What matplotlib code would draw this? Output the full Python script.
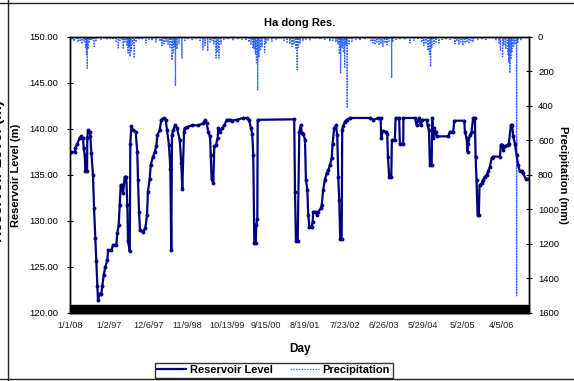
import matplotlib
matplotlib.use("Agg")
import matplotlib.pyplot as plt
from matplotlib.patches import Rectangle
from matplotlib.lines import Line2D
import numpy as np

plt.rcParams['font.family'] = ['Liberation Sans', 'DejaVu Sans']

# ---------------- data ----------------
title = "Ha dong Res."
x_tick_days = [0, 338, 676, 1014, 1352, 1690, 2028, 2366, 2704, 3042, 3380, 3718]
x_tick_labels = ['1/1/08', '1/2/97', '12/6/97', '11/9/98', '10/13/99', '9/15/00',
                 '8/19/01', '7/23/02', '6/26/03', '5/29/04', '5/2/05', '4/5/06']
n_days = 3959

level_day = [6, 41, 46, 63, 84, 97, 112, 118, 127, 132, 147, 149, 155, 170, 175, 184, 198, 207,
             218, 227, 235, 241, 256, 270, 278, 290, 304, 322, 328, 356, 371, 399, 408, 420, 428,
             437, 448, 457, 472, 485, 494, 500, 515, 520, 528, 543, 566, 580, 586, 595, 603, 629,
             649, 664, 672, 687, 696, 715, 730, 744, 753, 773, 787, 808, 825, 836, 853, 865, 873,
             879, 890, 908, 922, 946, 959, 968, 983, 989, 1011, 1049, 1106, 1149, 1164, 1178, 1192,
             1207, 1213, 1221, 1235, 1244, 1259, 1273, 1278, 1293, 1313, 1330, 1351, 1379, 1394,
             1437, 1494, 1523, 1543, 1560, 1571, 1580, 1589, 1601, 1606, 1615, 1618, 1933, 1940,
             1948, 1963, 1977, 1989, 1998, 2012, 2026, 2034, 2046, 2054, 2063, 2083, 2092, 2097,
             2121, 2127, 2140, 2164, 2170, 2183, 2198, 2213, 2227, 2241, 2256, 2264, 2278, 2293,
             2304, 2313, 2321, 2330, 2342, 2347, 2356, 2370, 2385, 2414, 2586, 2614, 2658, 2678,
             2683, 2696, 2724, 2735, 2741, 2752, 2770, 2775, 2801, 2807, 2838, 2844, 2873, 2875,
             2974, 2989, 3009, 3023, 3037, 3075, 3083, 3095, 3103, 3118, 3123, 3132, 3141, 3152,
             3161, 3261, 3276, 3304, 3313, 3399, 3405, 3419, 3428, 3433, 3448, 3462, 3476, 3491,
             3497, 3505, 3514, 3525, 3531, 3549, 3562, 3577, 3592, 3606, 3620, 3635, 3649, 3707,
             3715, 3727, 3735, 3750, 3773, 3784, 3801, 3813, 3821, 3836, 3850, 3864, 3879, 3893,
             3907, 3928, 3958]
level_m = [137.5, 137.5, 137.9, 138.4, 139.05, 139.2, 139.0, 137.9, 137.2, 135.4, 135.4, 139.0,
           139.9, 139.7, 139.2, 137.4, 135.0, 131.4, 128.1, 125.6, 122.9, 121.4, 122.1, 122.1,
           122.9, 124.1, 125.0, 125.8, 126.8, 126.8, 127.4, 127.4, 128.7, 129.6, 131.7, 133.9,
           133.9, 133.0, 134.8, 134.8, 131.7, 127.8, 126.7, 138.4, 140.3, 139.9, 139.7, 137.5,
           134.5, 131.0, 129.0, 128.8, 129.2, 130.7, 133.2, 134.6, 136.1, 137.0, 137.5, 138.1,
           139.3, 139.9, 141.0, 141.2, 141.0, 139.9, 138.3, 135.7, 126.8, 139.3, 139.9, 140.4,
           140.1, 138.8, 136.3, 133.5, 139.7, 140.1, 140.2, 140.4, 140.4, 140.6, 141.0, 140.6,
           139.7, 139.2, 137.2, 134.6, 134.1, 138.1, 138.3, 139.0, 140.1, 139.7, 140.1, 140.4,
           141.0, 141.0, 140.9, 141.0, 141.2, 141.2, 141.0, 140.1, 139.5, 137.2, 127.6, 127.6,
           129.6, 130.2, 141.0, 141.05, 133.2, 127.8, 127.8, 139.7, 140.4, 139.6, 139.5, 138.8,
           134.5, 133.4, 130.7, 129.4, 129.4, 129.9, 131.0, 131.0, 130.7, 131.0, 131.4, 131.7,
           133.4, 134.5, 135.2, 135.5, 136.1, 136.8, 138.4, 140.1, 140.4, 139.3, 134.8, 132.3,
           128.0, 128.0, 139.9, 140.3, 140.8, 141.0, 141.2, 141.2, 141.0, 141.2, 141.2, 139.0,
           139.8, 139.7, 139.5, 137.0, 134.8, 134.8, 138.8, 138.8, 141.2, 141.2, 138.4, 138.4,
           141.2, 141.2, 140.4, 141.2, 140.4, 141.0, 141.0, 140.4, 139.9, 136.1, 136.1, 141.2,
           139.0, 140.1, 139.7, 139.2, 139.2, 139.7, 139.7, 140.9, 140.9, 139.7, 139.0, 137.5,
           138.4, 139.3, 139.7, 141.2, 141.2, 137.0, 134.5, 130.7, 130.7, 133.9, 134.1, 134.5,
           134.8, 135.0, 135.4, 135.9, 136.8, 137.0, 137.0, 138.3, 138.3, 137.7, 138.1, 138.3,
           138.4, 140.4, 140.4, 139.2, 138.4, 137.2, 136.1, 135.4, 135.4, 135.2, 134.6, 134.6]

rain_day = [17, 34, 52, 69, 86, 103, 121, 134, 142, 149, 155, 164, 181, 198, 209, 224, 241, 267,
            293, 319,
            345, 371, 397, 416, 431, 448, 459, 474, 491, 500, 509, 517, 526, 539, 554, 569, 595,
            621, 655, 681,
            707, 741, 776, 793, 810, 828, 845, 862, 879, 892, 901, 909, 922, 940, 965, 991, 1017,
            1052, 1086,
            1121, 1146, 1164, 1187, 1207, 1224, 1241, 1259, 1271, 1284, 1302, 1327, 1362, 1405,
            1448,
            1483, 1517, 1543, 1560, 1577, 1586, 1599, 1608, 1618, 1629, 1642, 1655, 1678, 1690,
            1707, 1741, 1776, 1810,
            1845, 1871, 1896, 1914, 1931, 1948, 1959, 1970, 1983, 2008, 2034, 2069, 2112, 2155,
            2198, 2241, 2267, 2293, 2310, 2323, 2333, 2345, 2358, 2368, 2379, 2390, 2405, 2431,
            2465, 2500, 2543,
            2595, 2612, 2629, 2646, 2664, 2681, 2698, 2715, 2733, 2750, 2773, 2784, 2810, 2845,
            2888,
            2931, 2965, 3000, 3034, 3051, 3069, 3086, 3099, 3109, 3120, 3138, 3155, 3181, 3207,
            3241, 3276,
            3319, 3336, 3353, 3370, 3388, 3405, 3422, 3439, 3457, 3474, 3517, 3551, 3586,
            3672, 3698, 3711, 3730, 3741, 3758, 3776, 3784, 3793, 3801, 3810, 3823, 3836, 3851,
            3862, 3888, 3922]
rain_mm = [15, 25, 10, 30, 20, 40, 25, 60, 100, 182, 70, 35, 20, 15, 54, 20, 10, 15, 10, 15,
           10, 15, 25, 64, 20, 15, 70, 30, 50, 93, 60, 114, 80, 40, 122, 30, 15, 10, 35, 15,
           20, 30, 25, 50, 40, 25, 45, 60, 135, 90, 60, 284, 70, 40, 122, 20, 10, 15, 10,
           20, 74, 50, 83, 30, 20, 40, 122, 90, 122, 40, 15, 10, 20, 15,
           15, 20, 30, 45, 60, 70, 100, 150, 307, 120, 80, 60, 90, 40, 20, 25, 15, 10,
           20, 30, 40, 55, 45, 70, 191, 60, 40, 25, 15, 20, 10, 15,
           15, 25, 20, 30, 40, 100, 207, 60, 90, 180, 50, 412, 40, 25, 15, 20, 10,
           20, 35, 45, 30, 50, 40, 55, 35, 45, 25, 238, 30, 15, 10, 15,
           35, 20, 15, 30, 50, 40, 80, 100, 172, 60, 40, 30, 35, 15, 10, 15,
           40, 25, 45, 30, 50, 35, 25, 40, 20, 30, 15, 10, 15,
           20, 40, 80, 114, 50, 70, 100, 150, 209, 130, 90, 60, 45, 1500, 30, 20, 10]

# daily precipitation table built from the read values (zero on the other days)
precip = np.zeros(n_days)
precip[rain_day] = rain_mm
days = np.arange(n_days)

# ---------------- figure ----------------
fig = plt.figure(figsize=(5.74, 3.81), dpi=100)
ax = fig.add_axes([0.122, 0.1785, 0.7997, 0.7244])
ax2 = ax.twinx()

p_line, = ax2.plot(days, precip, color='#3366ff', lw=1.0, ls=(0, (1, 1)),
                   label='Precipitation')
l_line, = ax.plot(level_day, level_m, color='#000080', lw=1.6, marker='o', ms=1.8,
                  label='Reservoir Level')

ax.set_zorder(ax2.get_zorder() + 1)
ax.patch.set_visible(False)

ax.set_xlim(0, n_days - 1)
ax.set_ylim(120, 150)
ax.set_yticks(np.arange(120, 151, 5))
ax.set_yticklabels([f"{v:.2f}" for v in np.arange(120, 151, 5)])
ax2.set_ylim(1600, 0)
ax2.set_yticks(np.arange(0, 1601, 200))

ax.set_xticks(x_tick_days)
ax.set_xticklabels(x_tick_labels)

ax.tick_params(axis='x', length=0, pad=6, labelsize=6.6, colors='#222222')
ax.tick_params(axis='y', direction='inout', length=5, pad=6, labelsize=6.8)
ax2.tick_params(axis='y', direction='inout', length=5, pad=4, labelsize=6.8)

for a in (ax, ax2):
    for s in a.spines.values():
        s.set_color('black')
        s.set_linewidth(1.0)

# dense category tick marks merge into a black band along the bottom axis
ax.add_patch(Rectangle((0, 0), 1, 0.029, transform=ax.transAxes, color='black',
                       zorder=5, clip_on=False))

ax.set_title(title, fontsize=8, fontweight='bold', pad=8)
ax.set_xlabel('Day', fontsize=8.5, fontweight='bold', labelpad=9)
ax.set_ylabel('Reservoir Level (m)', fontsize=8, fontweight='bold', labelpad=6)
ax2.set_ylabel('Precipitation (mm)', fontsize=8, fontweight='bold', rotation=270,
               labelpad=6)

leg = fig.legend(handles=[l_line, p_line], labels=['Reservoir Level', 'Precipitation'],
                 loc='center', bbox_to_anchor=(0.477, 0.028), ncol=2, frameon=True,
                 fancybox=False, edgecolor='black', prop={'weight': 'bold', 'size': 8},
                 handlelength=2.6, handletextpad=0.3, columnspacing=1.6, borderpad=0.25)
leg.get_frame().set_linewidth(1.0)
for h in leg.legend_handles:
    h.set_marker('')

# outer chart border fragments
fig.add_artist(Line2D([8 / 574, 8 / 574], [0, 1], color='#222222', lw=1.0))
fig.add_artist(Line2D([0, 1], [1 - 2.5 / 381, 1 - 2.5 / 381], color='#222222', lw=1.0))
fig.add_artist(Line2D([0, 1], [2 / 381, 2 / 381], color='#222222', lw=1.0))
fig.text(-0.004, 0.55, 'Reservoir Level (m)', rotation=90, ha='center', va='center',
         fontsize=11, fontweight='bold')

fig.savefig('out.png', dpi=100)
